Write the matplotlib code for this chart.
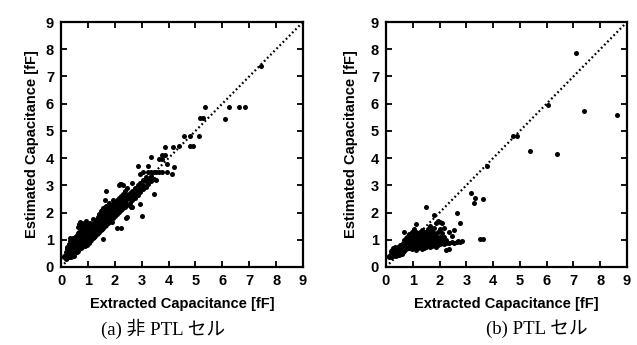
import matplotlib.pyplot as plt

plt.rcParams['font.family'] = 'Liberation Sans'
plt.rcParams['font.weight'] = 'bold'

# (a) non-PTL cells: dense part as columns of x with their y values
a_col_x = [0.12, 0.18, 0.22, 0.28, 0.33, 0.38, 0.43, 0.48, 0.53, 0.58, 0.63, 0.68, 0.73, 0.78,
           0.83, 0.88, 0.93, 0.98, 1.03, 1.08, 1.13, 1.18, 1.23, 1.28, 1.33, 1.38, 1.43, 1.48,
           1.53, 1.58, 1.63, 1.68, 1.73, 1.78, 1.85, 1.92, 2.00, 2.08, 2.15, 2.22, 2.30, 2.38,
           2.45, 2.55, 2.65, 2.75, 2.85, 2.95, 3.05, 3.15, 3.25, 3.35, 3.45, 3.55, 3.65, 3.75,
           3.85, 3.95]
a_col_y = [
    [0.35, 0.42], [0.30, 0.45, 0.55], [0.40, 0.52, 0.65, 0.75], [0.35, 0.48, 0.60, 0.72, 0.85],
    [0.42, 0.55, 0.68, 0.80, 0.95, 1.05], [0.38, 0.50, 0.62, 0.75, 0.88, 1.00],
    [0.45, 0.58, 0.70, 0.82, 0.95, 1.08], [0.42, 0.55, 0.68, 0.80, 0.92, 1.05],
    [0.50, 0.62, 0.75, 0.88, 1.00, 1.12], [0.55, 0.68, 0.80, 0.92, 1.05, 1.18],
    [0.60, 0.72, 0.85, 0.98, 1.10, 1.25, 1.48], [0.65, 0.78, 0.90, 1.02, 1.15, 1.30, 1.58],
    [0.70, 0.82, 0.95, 1.08, 1.20, 1.35, 1.50], [0.75, 0.88, 1.00, 1.12, 1.25, 1.40, 1.60],
    [0.80, 0.92, 1.05, 1.18, 1.30, 1.45], [0.78, 0.90, 1.02, 1.15, 1.28, 1.40, 1.55],
    [0.85, 0.98, 1.10, 1.22, 1.35, 1.70], [0.82, 0.95, 1.08, 1.20, 1.32, 1.45, 1.60],
    [0.90, 1.02, 1.15, 1.28, 1.40, 1.55], [0.95, 1.08, 1.20, 1.32, 1.45, 1.62],
    [1.00, 1.12, 1.25, 1.38, 1.50], [1.05, 1.18, 1.30, 1.42, 1.58, 1.75],
    [1.10, 1.22, 1.35, 1.48, 1.62], [1.15, 1.28, 1.40, 1.55, 1.70],
    [1.20, 1.32, 1.45, 1.60, 1.78], [1.25, 1.38, 1.50, 1.65, 1.85],
    [1.30, 1.45, 1.58, 1.72, 1.95], [1.35, 1.50, 1.65, 1.80, 2.05],
    [1.40, 1.55, 1.70, 1.88, 2.10], [1.03, 1.45, 1.62, 1.78, 1.95, 2.15],
    [1.50, 1.68, 1.85, 2.02, 2.20, 2.45], [1.55, 1.72, 1.90, 2.08, 2.25, 2.80],
    [1.60, 1.78, 1.95, 2.12], [1.65, 1.82, 2.00, 2.18, 2.35], [1.72, 1.90, 2.08, 2.25],
    [1.80, 1.98, 2.15, 2.30, 2.45], [1.88, 2.05, 2.20, 2.38], [1.95, 2.12, 2.28, 2.45],
    [2.02, 2.18, 2.35, 2.52, 3.00], [1.45, 2.10, 2.25, 2.42, 2.60, 3.05],
    [2.15, 2.32, 2.50, 2.70, 3.02], [2.20, 2.40, 2.58, 2.78], [1.85, 2.28, 2.48, 2.65, 2.90],
    [2.35, 2.55, 2.72], [2.22, 2.45, 2.62, 2.80, 3.10], [2.55, 2.72, 2.90],
    [2.65, 2.80, 3.00, 3.72], [2.75, 2.90, 3.10, 3.40], [2.85, 3.00, 3.20, 3.50],
    [2.95, 3.15, 3.30], [3.05, 3.22, 3.50, 3.70], [3.15, 3.35, 3.50, 4.05],
    [2.68, 3.25, 3.50], [3.18, 3.50], [3.50, 3.95], [3.50, 3.95, 4.12], [4.40, 4.12],
    [3.50, 3.80],
]
# (a) scattered points above 4 fF and a few outliers
a_out_x = [7.43, 5.35, 5.16, 5.28, 6.09, 6.24, 6.61, 6.86, 5.12, 4.58, 4.79, 4.79, 4.92,
           4.17, 4.38, 4.21, 4.11, 3.03, 2.93, 2.41, 2.07, 2.62, 1.88, 0.70, 2.19]
a_out_y = [7.38, 5.88, 5.48, 5.48, 5.43, 5.88, 5.88, 5.88, 4.83, 4.83, 4.83, 4.43, 4.43,
           4.41, 4.44, 3.67, 3.43, 1.86, 2.33, 1.80, 1.45, 2.20, 1.65, 1.65, 3.06]

# (b) PTL cells
b_col_x = [0.12, 0.18, 0.23, 0.28, 0.33, 0.38, 0.43, 0.48, 0.53, 0.58, 0.63, 0.68, 0.73, 0.78,
           0.85, 0.92, 0.98, 1.05, 1.12, 1.20, 1.28, 1.35, 1.42, 1.50, 1.58, 1.65, 1.72, 1.80,
           1.88, 1.95, 2.02, 2.10, 2.18, 2.25, 2.35, 2.45, 2.55, 2.65, 2.78]
b_col_y = [
    [0.35, 0.42], [0.38, 0.48, 0.58], [0.40, 0.50, 0.62], [0.42, 0.52, 0.62, 0.70],
    [0.45, 0.55, 0.65, 0.72], [0.42, 0.52, 0.62, 0.70], [0.48, 0.58, 0.68, 0.75],
    [0.45, 0.55, 0.65, 0.72], [0.50, 0.60, 0.70, 0.80], [0.48, 0.58, 0.68, 0.78],
    [0.55, 0.65, 0.75, 0.88], [0.60, 0.72, 0.85, 1.00, 1.30], [0.65, 0.78, 0.90, 1.05],
    [0.70, 0.82, 0.95, 1.10], [0.68, 0.80, 0.92, 1.05, 1.20], [0.72, 0.85, 0.98, 1.12],
    [0.65, 0.78, 0.90, 1.02, 1.18, 1.30], [0.70, 0.82, 0.95, 1.08, 1.25, 1.38],
    [0.62, 0.75, 0.88, 1.00, 1.15, 1.30, 1.58], [0.68, 0.80, 0.92, 1.05, 1.22],
    [0.72, 0.85, 0.98, 1.12, 1.30], [0.65, 0.78, 0.90, 1.05, 1.20, 1.35],
    [0.70, 0.82, 0.95, 1.10, 1.28], [0.75, 0.88, 1.00, 1.15, 1.30, 2.22],
    [0.80, 0.92, 1.05, 1.20, 1.40], [0.72, 0.85, 0.98, 1.12, 1.30, 1.50],
    [0.78, 0.90, 1.02, 1.18, 1.35], [0.82, 0.95, 1.08, 1.25, 1.45, 1.92],
    [0.75, 0.88, 1.00, 1.15, 1.62], [0.80, 0.92, 1.05, 1.30, 1.68],
    [0.85, 0.98, 1.12, 1.40, 1.65], [0.90, 1.02, 1.25, 1.60], [0.85, 0.95, 1.10, 1.45],
    [0.62, 0.88, 1.00], [0.90, 1.30], [0.92, 1.15], [0.90, 1.35], [0.92, 1.98], [0.92, 1.62],
]
b_out_x = [7.11, 7.38, 8.62, 6.05, 4.73, 4.89, 5.38, 6.40, 3.77, 3.18, 3.31, 3.28, 3.62,
           3.50, 3.62, 2.85, 2.69, 2.37]
b_out_y = [7.86, 5.73, 5.57, 5.96, 4.83, 4.83, 4.26, 4.16, 3.71, 2.73, 2.53, 2.36, 2.48,
           1.04, 1.04, 0.95, 0.95, 0.65]

ticks = list(range(10))
captions = ['(a) 非 PTL セル', '(b) PTL セル']


def flatten(cols, ys):
    px, py = [], []
    for c, yl in zip(cols, ys):
        for v in yl:
            px.append(c)
            py.append(v)
    return px, py


fig = plt.figure(figsize=(6.37, 3.45), dpi=100)
ax_a = fig.add_axes([61 / 637, 78 / 345, 242 / 637, 245 / 345])
ax_b = fig.add_axes([386 / 637, 78 / 345, 241 / 637, 245 / 345])

sets = [(ax_a, flatten(a_col_x, a_col_y), a_out_x, a_out_y, -0.09),
        (ax_b, flatten(b_col_x, b_col_y), b_out_x, b_out_y, -0.116)]

for ax, (cx, cy), ox, oy, ylx in sets:
    ax.plot([0, 9], [0, 9], color='black', lw=1.6, ls=(0, (0.8, 1.2)))
    ax.scatter(cx + ox, cy + oy, s=13, color='black', linewidths=0, zorder=3)
    ax.set_xlim(0, 9)
    ax.set_ylim(0, 9)
    ax.set_xticks(ticks)
    ax.set_yticks(ticks)
    ax.tick_params(direction='in', top=True, right=True, length=4, width=1.3,
                   labelsize=10.5, pad=5)
    for sp in ax.spines.values():
        sp.set_linewidth(1.6)
    ax.set_xlabel('Extracted Capacitance [fF]', fontsize=10.5, fontweight='bold')
    ax.set_ylabel('Estimated Capacitance [fF]', fontsize=10.5, fontweight='bold')
    ax.xaxis.set_label_coords(0.5, -0.122)
    ax.yaxis.set_label_coords(ylx, 0.5)

fig.text(163 / 637, 1 - 329 / 345, captions[0], ha='center', va='center', fontsize=13.5,
         fontweight='normal', family=['Liberation Serif', 'Noto Sans CJK JP'])
fig.text(537 / 637, 1 - 329 / 345, captions[1], ha='center', va='center', fontsize=13.5,
         fontweight='normal', family=['Liberation Serif', 'Noto Sans CJK JP'])

fig.savefig('out.png', dpi=100)
